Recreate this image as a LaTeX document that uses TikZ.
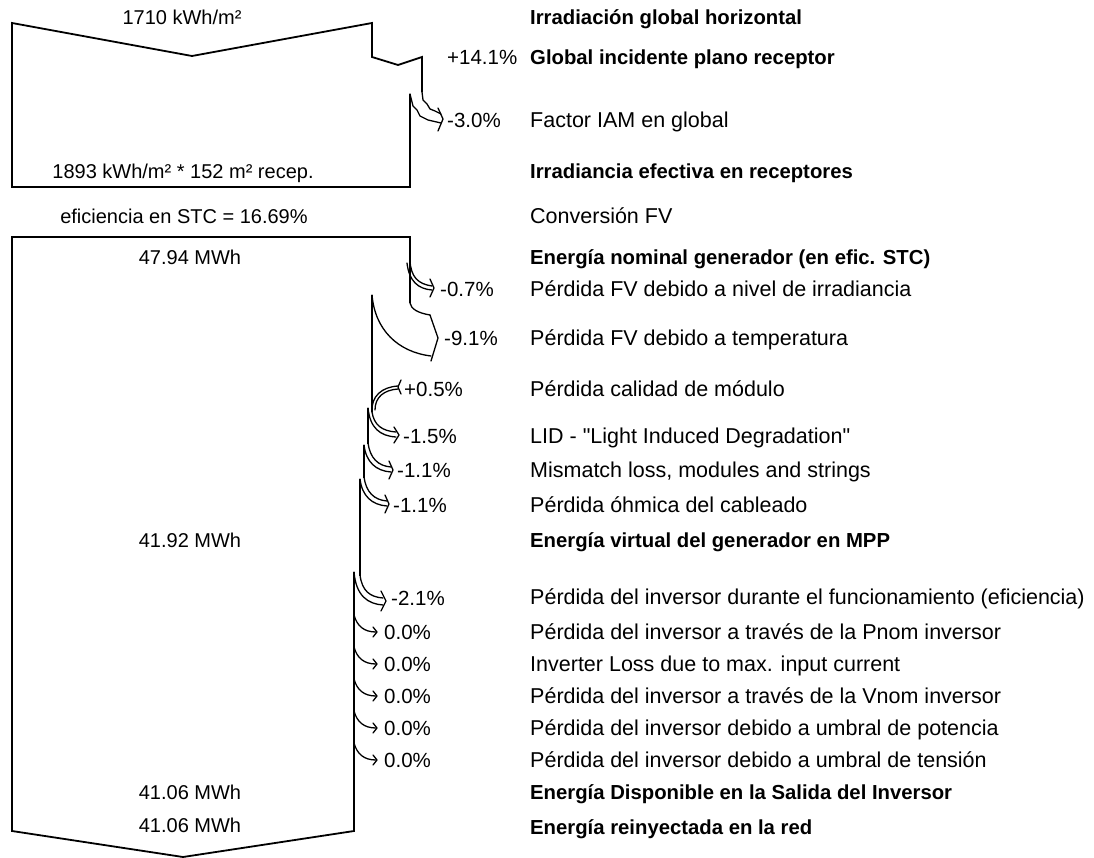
\documentclass[tikz,border=0pt]{standalone}
\usepackage{fontspec}
\setmainfont{Liberation Sans}
\begin{document}
\begin{tikzpicture}[x=1pt,y=-1pt,
  txt/.style={inner sep=0pt,font=\fontsize{21.5}{25}\selectfont},
  lab/.style={txt,anchor=base west},
  blab/.style={lab,font=\fontsize{20.3}{25}\selectfont\bfseries},
  pct/.style={txt,anchor=base west,font=\fontsize{20.5}{25}\selectfont},
  val/.style={txt,anchor=base,font=\fontsize{20}{24}\selectfont},
  flow/.style={line width=1.8pt,line join=miter},
  arr/.style={line width=1.3pt,line join=round,line cap=round}]
\useasboundingbox (0,0) rectangle (1094,858);
% ---------- right-hand labels ----------
\node[blab] (l1)  at (530,25)  {Irradiación global horizontal};
\node[blab] (l2)  at (530,65)  {Global incidente plano receptor};
\node[lab]  (l3)  at (530,128) {Factor IAM en global};
\node[blab] (l4)  at (530,179) {Irradiancia efectiva en receptores};
\node[lab]  (l5)  at (530,224) {Conversión FV};
\node[blab] (l6)  at (530,265) {Energía nominal generador (en efic. STC)};
\node[lab]  (l7)  at (530,297) {Pérdida FV debido a nivel de irradiancia};
\node[lab]  (l8)  at (530,345) {Pérdida FV debido a temperatura};
\node[lab]  (l9)  at (530,396) {Pérdida calidad de módulo};
\node[lab]  (l10) at (530,443) {LID - \textquotedbl Light Induced Degradation\textquotedbl};
\node[lab]  (l11) at (530,477) {Mismatch loss, modules and strings};
\node[lab]  (l12) at (530,512) {Pérdida óhmica del cableado};
\node[blab] (l13) at (530,547) {Energía virtual del generador en MPP};
\node[lab]  (l14) at (530,604) {Pérdida del inversor durante el funcionamiento (eficiencia)};
\node[lab]  (l15) at (530,639) {Pérdida del inversor a través de la Pnom inversor};
\node[lab]  (l16) at (530,671) {Inverter Loss due to max. input current};
\node[lab]  (l17) at (530,703) {Pérdida del inversor a través de la Vnom inversor};
\node[lab]  (l18) at (530,735) {Pérdida del inversor debido a umbral de potencia};
\node[lab]  (l19) at (530,767) {Pérdida del inversor debido a umbral de tensión};
\node[blab] (l20) at (530,799) {Energía Disponible en la Salida del Inversor};
\node[blab] (l21) at (530,834) {Energía reinyectada en la red};
% ---------- percentages ----------
\node[pct] (p2)  at (447,65)  {+14.1\%};
\node[pct] (p3)  at (447,128) {-3.0\%};
\node[pct] (p7)  at (440,297) {-0.7\%};
\node[pct] (p8)  at (444,345) {-9.1\%};
\node[pct] (p9)  at (404,396) {+0.5\%};
\node[pct] (p10) at (403,443) {-1.5\%};
\node[pct] (p11) at (397,477) {-1.1\%};
\node[pct] (p12) at (393,512) {-1.1\%};
\node[pct] (p14) at (391,605) {-2.1\%};
\node[pct] (p15) at (384,639) {0.0\%};
\node[pct] (p16) at (384,671) {0.0\%};
\node[pct] (p17) at (384,703) {0.0\%};
\node[pct] (p18) at (384,735) {0.0\%};
\node[pct] (p19) at (384,767) {0.0\%};
% ---------- left values ----------
\node[val] (v1) at (182,25)  {1710 kWh/m²};
\node[val] (v4) at (183,179) {1893 kWh/m² * 152 m² recep.};
\node[val] (v5) at (184,224) {eficiencia en STC = 16.69\%};
\node[val] (v6) at (190,265) {47.94 MWh};
\node[val] (v13) at (190,547) {41.92 MWh};
\node[val] (v20) at (190,799) {41.06 MWh};
\node[val] (v21) at (190,832) {41.06 MWh};
% ---------- block 1 ----------
\draw[flow] (410,94) -- (410,187) -- (12,187) -- (12,23) -- (192,56) -- (372,23)
  -- (372,57) -- (398,65) -- (422,57) -- (422,92);
% IAM loss arrow
\draw[arr] (422,92) -- (423,100) -- (427,104) -- (430,109) -- (435,111) -- (441,114);
\draw[arr] (410,94) -- (413,106) -- (417,110) -- (420,116) -- (428,120) -- (441,123);
\draw[arr] (438,108) -- (443,119) -- (438,131);
% ---------- block 2 ----------
\draw[flow] (410,303) -- (410,237) -- (12,237) -- (12,831) -- (183,857) -- (354,831) -- (354,572);
% -0.7 %
\draw[arr] (410,261) .. controls (411,277) and (418,284) .. (432,286);
\draw[arr] (407,263) .. controls (409,281) and (418,289) .. (432,290);
\draw[arr] (430,279) -- (434,288) -- (430,297);
% -9.1 %
\draw[arr] (410,303) .. controls (411,309) and (418,313) .. (430,315);
\draw[arr] (430,315) -- (438,338) -- (431,361);
\draw[arr] (372,295) .. controls (375,330) and (398,352) .. (431,356);
\draw[flow] (372,295) -- (372,412);
% +0.5 %
\draw[arr] (372,412) .. controls (371,396) and (382,387) .. (398,386);
\draw[arr] (375,410) .. controls (375,397) and (384,390) .. (398,389);
\draw[arr] (401,380) -- (398,387) -- (401,394);
% -1.5 %
\draw[arr] (372,412) .. controls (374,425) and (382,431) .. (396,432);
\draw[arr] (368,408) .. controls (370,428) and (380,436) .. (396,437);
\draw[arr] (394,427) -- (399,435) -- (394,443);
\draw[flow] (368,408) -- (368,444);
% -1.1 %
\draw[arr] (368,443) .. controls (370,458) and (378,466) .. (391,467);
\draw[arr] (364,445) .. controls (366,462) and (376,471) .. (391,472);
\draw[arr] (389,461) -- (393,470) -- (389,479);
\draw[flow] (364,445) -- (364,478);
% -1.1 %
\draw[arr] (364,477) .. controls (366,492) and (374,500) .. (387,501);
\draw[arr] (360,479) .. controls (362,496) and (372,505) .. (387,506);
\draw[arr] (385,495) -- (389,504) -- (385,513);
\draw[flow] (360,479) -- (360,576);
% -2.1 %
\draw[arr] (360,575) .. controls (362,591) and (370,597) .. (383,598);
\draw[arr] (354,572) .. controls (356,596) and (368,604) .. (383,605);
\draw[arr] (381,591) -- (386,601) -- (381,611);
% 0.0 % arrows
\foreach \yy in {632,664,696,728,760}{
  \draw[arr] (354,\yy-17) .. controls (357,\yy-6) and (364,\yy) .. (376,\yy);
  \draw[arr] (373,\yy-5) -- (377,\yy) -- (373,\yy+5);
}
\end{tikzpicture}
\end{document}
